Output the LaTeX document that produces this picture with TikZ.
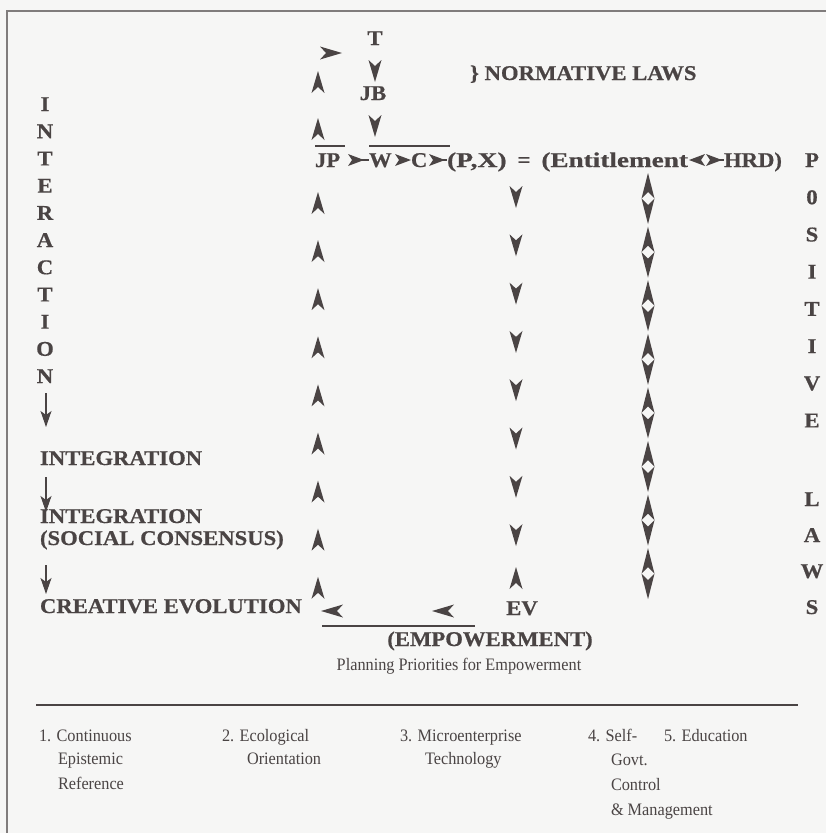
\documentclass[tikz,border=0pt]{standalone}
\usepackage{fontspec}
\setmainfont{Liberation Serif}
\newfontfamily\bfnt[FakeStretch=1.08,FakeBold=0.6]{Liberation Serif}
\newfontfamily\nfnt[FakeStretch=0.93]{Liberation Serif}
\usetikzlibrary{arrows.meta}
\definecolor{ink}{HTML}{4A4444}
\definecolor{bgc}{HTML}{F6F6F5}
\definecolor{framec}{HTML}{807C7C}
\begin{document}
\begin{tikzpicture}[x=1pt,y=-1pt,
  every node/.style={inner sep=0pt, outer sep=0pt, text=ink},
  bt/.style={font=\bfnt\bfseries\fontsize{21}{24}\selectfont},
  nt/.style={font=\nfnt\fontsize{17.5}{20}\selectfont, anchor=base west},
  ahd/.pic={\fill[ink] (0,-11) -- (6.5,11) -- (0,5) -- (-6.5,11) -- cycle;},
  ahs/.pic={\fill[ink] (0,-8) -- (6,8) -- (0,4) -- (-6,8) -- cycle;},
  dbl/.pic={\fill[ink] (0,0) -- (6.5,25.5) -- (0,19) -- (-6.5,25.5) -- cycle;
            \fill[ink] (0,51) -- (6.5,25.5) -- (0,32) -- (-6.5,25.5) -- cycle;},
  downarr/.style={draw=ink, line width=1.1pt, -{Stealth[length=16pt,width=11pt,inset=4pt]}},
  bar/.style={draw=ink, line width=1.2pt},
  tail/.style={draw=ink, line width=1.4pt}
]
\fill[bgc] (0,0) rectangle (826,833);
\useasboundingbox (0,0) rectangle (826,833);
\draw[framec, line width=2pt] (826,11) -- (7,11) -- (7,833);

% top part
\node[bt, anchor=base] (t) at (375,45) {T};
\pic[rotate=180] at (375,71) {ahd};
\node[bt, anchor=base] (jb) at (373,100) {JB};
\pic[rotate=180] at (375,126) {ahd};
\pic[rotate=-90] at (331,53) {ahd};
\pic at (318,82) {ahd};
\pic at (318,129) {ahd};
\node[bt, anchor=base west] (norm) at (470,80) {\} NORMATIVE LAWS};

% main row
\node[bt, anchor=base west] (jp) at (315,167) {JP};
\draw[bar] (315,146) -- (345,146);
\pic[rotate=-90] at (356,160) {ahs};
\coordinate (a1) at (362,160);
\node[bt, anchor=base west] (w) at (369,167) {W};
\draw[tail] (a1) -- (w.west |- a1);
\draw[bar] (369,146) -- (450,146);
\pic[rotate=-90] at (403,160) {ahs};
\node[bt, anchor=base west] (c) at (411,167) {C};
\pic[rotate=-90] at (437,160) {ahs};
\coordinate (a3) at (443,160);
\node[bt, anchor=base west] (px) at (447,167) {\scalebox{1.22}[1]{(P,X)}};
\draw[tail] (a3) -- (px.west |- a3);
\node[bt, anchor=base] (eq) at (524,167) {=};
\node[bt, anchor=base east] (ent) at (688,167) {\scalebox{1.2}[1]{(Entitlement}};
\pic[rotate=90] at (697,160) {ahs};
\pic[rotate=-90] at (714,160) {ahs};
\coordinate (a4) at (720,160);
\node[bt, anchor=base west] (hrd) at (724,167) {HRD)};
\draw[tail] (a4) -- (hrd.west |- a4);

% POSITIVE LAWS column
\foreach \ch [count=\i from 0] in {P,0,S,I,T,I,V,E}
  \node[bt, anchor=base] (pos\i) at (812,167+37.2*\i) {\ch};
\node[bt, anchor=base] (posL) at (812,506) {L};
\node[bt, anchor=base] (posA) at (812,542) {A};
\node[bt, anchor=base] (posW) at (812,578) {W};
\node[bt, anchor=base] (posS) at (812,614) {S};

% INTERACTION column
\foreach \ch [count=\i from 0] in {I,N,T,E,R,A,C,T,I,O,N}
  \node[bt, anchor=base] (int\i) at (45,111+27.2*\i) {\ch};
\coordinate (d1a) at (46,393);
\coordinate (d1b) at (46,427);
\draw[downarr] (d1a) -- (d1b);
\node[bt, anchor=base west] (integ) at (40,465) {INTEGRATION};
\coordinate (d2a) at (46,477);
\coordinate (d2b) at (46,512);
\draw[downarr] (d2a) -- (d2b);
\node[bt, anchor=base west] (integ2) at (40,523) {INTEGRATION};
\node[bt, anchor=base west] (social) at (40,545) {(SOCIAL CONSENSUS)};
\coordinate (d3a) at (46,565);
\coordinate (d3b) at (46,594);
\draw[downarr] (d3a) -- (d3b);
\node[bt, anchor=base west] (creat) at (40,613) {CREATIVE EVOLUTION};

% up arrow column
\foreach \k in {0,...,8}
  \pic at (318,203+48.1*\k) {ahd};
% down arrow column
\foreach \k in {0,...,7}
  \pic[rotate=180] at (516,197+48.3*\k) {ahd};
\pic at (516,578) {ahd};
% double arrow column
\foreach \k in {0,...,7}
  \pic at (648,173+53.6*\k) {dbl};

% bottom row
\pic[rotate=90] at (332,611) {ahd};
\pic[rotate=90] at (443,611) {ahd};
\node[bt, anchor=base] (ev) at (522,615) {EV};
\draw[bar] (322,626) -- (475,626);
\node[bt, anchor=base] (emp) at (490,646) {(EMPOWERMENT)};
\node[nt, anchor=base] (plan) at (459,670) {Planning Priorities for Empowerment};
\draw[draw=ink, line width=1.3pt] (36,705) -- (798,705);

% list
\node[nt] (l1a) at (39,741) {1. Continuous};
\node[nt] (l1b) at (58,764) {Epistemic};
\node[nt] (l1c) at (58,789) {Reference};
\node[nt] (l2a) at (222,741) {2. Ecological};
\node[nt] (l2b) at (247,764) {Orientation};
\node[nt] (l3a) at (400,741) {3. Microenterprise};
\node[nt] (l3b) at (425,764) {Technology};
\node[nt] (l4a) at (588,741) {4. Self-};
\node[nt] (l4b) at (611,765) {Govt.};
\node[nt] (l4c) at (611,790) {Control};
\node[nt] (l4d) at (611,815) {\& Management};
\node[nt] (l5a) at (664,741) {5. Education};
\end{tikzpicture}
\end{document}
